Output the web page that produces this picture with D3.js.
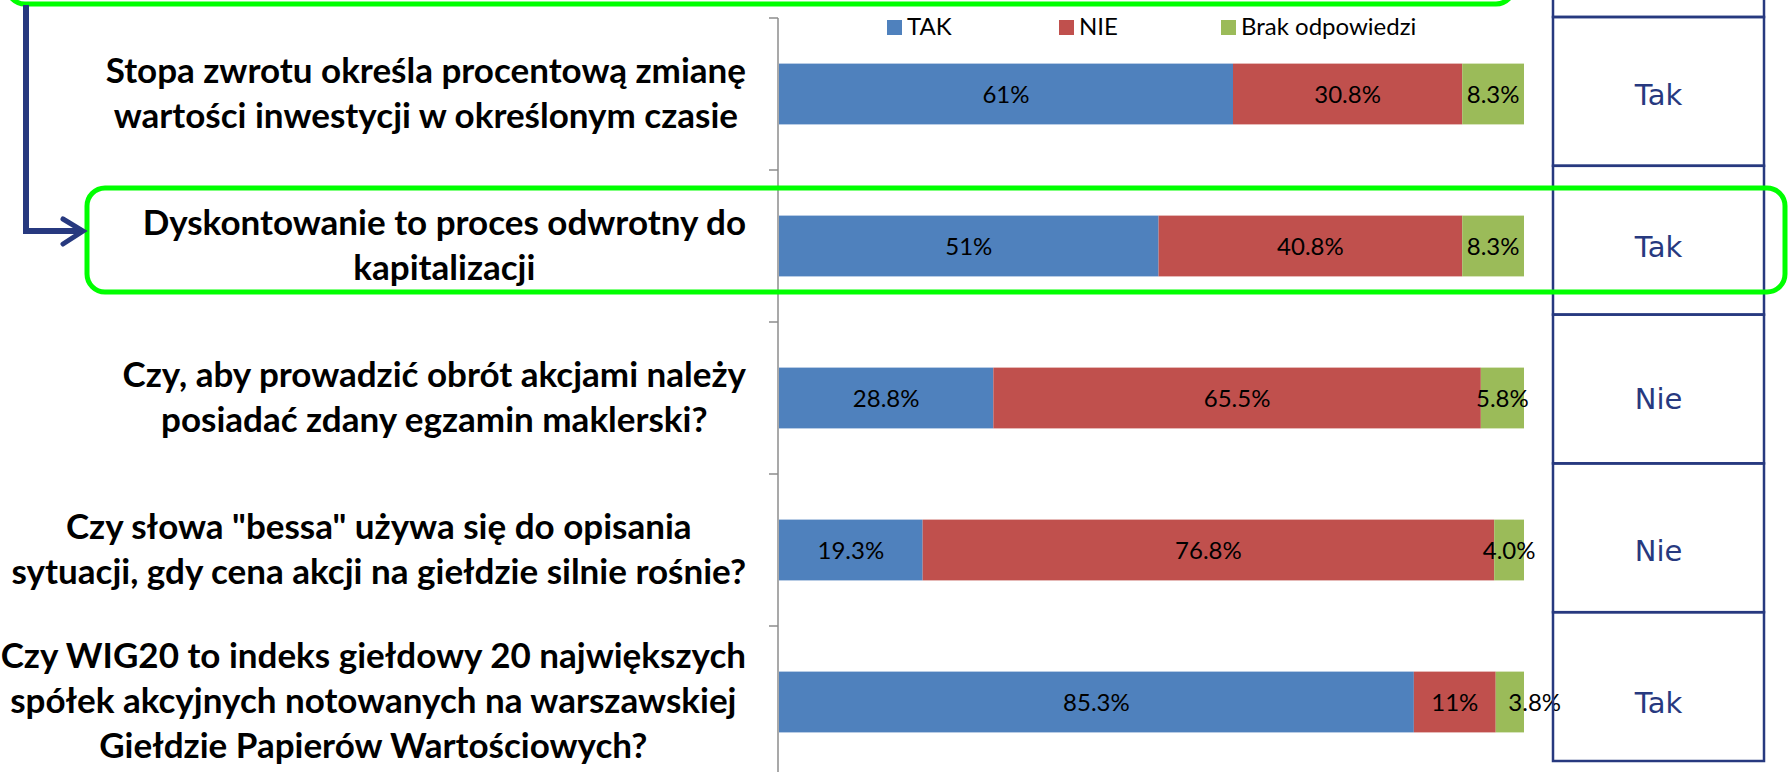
<!DOCTYPE html>
<html>
<head>
<meta charset="utf-8">
<script src="https://cdn.jsdelivr.net/npm/d3@7"></script>
<style>
  body { margin: 0; background: #fff; }
  svg { display: block; }
</style>
</head>
<body>
<svg id="chart"></svg>
<script>
// pytania (kategorie) i ich podział na linie
const categories = [
  "Stopa zwrotu określa procentową zmianę wartości inwestycji w określonym czasie",
  "Dyskontowanie to proces odwrotny do kapitalizacji",
  "Czy, aby prowadzić obrót akcjami należy posiadać zdany egzamin maklerski?",
  "Czy słowa \"bessa\" używa się do opisania sytuacji, gdy cena akcji na giełdzie silnie rośnie?",
  "Czy WIG20 to indeks giełdowy 20 największych spółek akcyjnych notowanych na warszawskiej Giełdzie Papierów Wartościowych?"
];
const categoryLines = [
  ["Stopa zwrotu określa procentową zmianę", "wartości inwestycji w określonym czasie"],
  ["Dyskontowanie to proces odwrotny do", "kapitalizacji"],
  ["Czy, aby prowadzić obrót akcjami należy", "posiadać zdany egzamin maklerski?"],
  ["Czy słowa \"bessa\" używa się do opisania", "sytuacji, gdy cena akcji na giełdzie silnie rośnie?"],
  ["Czy WIG20 to indeks giełdowy 20 największych", "spółek akcyjnych notowanych na warszawskiej", "Giełdzie Papierów Wartościowych?"]
];

const seriesNames = ["TAK", "NIE", "Brak odpowiedzi"];
const takValues = [61, 51, 28.8, 19.3, 85.3];
const nieValues = [30.8, 40.8, 65.5, 76.8, 11];
const brakValues = [8.3, 8.3, 5.8, 4.0, 3.8];
const takLabels = ["61%", "51%", "28.8%", "19.3%", "85.3%"];
const nieLabels = ["30.8%", "40.8%", "65.5%", "76.8%", "11%"];
const brakLabels = ["8.3%", "8.3%", "5.8%", "4.0%", "3.8%"];
const answers = ["Tak", "Tak", "Nie", "Nie", "Tak"];

const colors = ["#4f81bd", "#c0504d", "#9bbb59"];
const navy = "#27397f";
const green = "#00ff00";
const font = "Lato, 'Open Sans', sans-serif";

const width = 1789, height = 772;
const svg = d3.select("#chart").attr("width", width).attr("height", height);

const rows = categories.map((c, i) => ({
  cat: c,
  TAK: takValues[i],
  NIE: nieValues[i],
  "Brak odpowiedzi": brakValues[i]
}));
const seriesLabels = [takLabels, nieLabels, brakLabels];

const stacked = d3.stack().keys(seriesNames)(rows);
const total = d3.max(rows, d => d.TAK + d.NIE + d["Brak odpowiedzi"]);

const x = d3.scaleLinear().domain([0, total]).range([779, 1524]);
const y = d3.scaleBand().domain(categories).range([18, 778]).paddingInner(0.6).paddingOuter(0.3);

// oś pionowa z podziałkami na granicach kategorii
const axisX = 778;
const boundaries = categories.map(c => y(c) - y.step() * y.paddingInner() / 2);
boundaries.push(boundaries[boundaries.length - 1] + y.step());
svg.append("line")
  .attr("x1", axisX).attr("x2", axisX)
  .attr("y1", boundaries[0]).attr("y2", boundaries[boundaries.length - 1])
  .attr("stroke", "#8c8c8c").attr("stroke-width", 1.5);
svg.selectAll(".tick").data(boundaries).join("line")
  .attr("x1", axisX - 9).attr("x2", axisX)
  .attr("y1", d => d).attr("y2", d => d)
  .attr("stroke", "#8c8c8c").attr("stroke-width", 1.5);

// słupki
const layers = svg.selectAll(".layer").data(stacked).join("g")
  .attr("fill", (d, i) => colors[i]);
layers.selectAll("rect").data(d => d).join("rect")
  .attr("x", d => x(d[0]))
  .attr("y", d => y(d.data.cat))
  .attr("width", d => x(d[1]) - x(d[0]))
  .attr("height", y.bandwidth());

// etykiety wartości
const labelNodes = [];
stacked.forEach((s, si) => {
  const t = svg.append("g").selectAll("text").data(s).join("text")
    .attr("x", d => (x(d[0]) + x(d[1])) / 2)
    .attr("y", d => y(d.data.cat) + y.bandwidth() / 2 + 9)
    .attr("text-anchor", "middle")
    .attr("font-family", font)
    .attr("font-size", 24)
    .attr("fill", "#000")
    .text((d, i) => seriesLabels[si][i]);
  labelNodes.push(t.nodes());
});
// jeśli etykiety w jednym wierszu są za blisko, przesuń kolejną w prawo
categories.forEach((c, i) => {
  let prevRight = -Infinity;
  labelNodes.forEach(nodes => {
    const n = nodes[i];
    const w = n.getComputedTextLength();
    let cx = +n.getAttribute("x");
    if (cx - w / 2 < prevRight + 30) {
      cx = prevRight + 30 + w / 2;
      n.setAttribute("x", cx);
    }
    prevRight = cx + w / 2;
  });
});

// etykiety kategorii, blok wyrównany do prawej, linie wyśrodkowane
const labelRight = 746, lineH = 45;
categories.forEach((c, i) => {
  const lines = categoryLines[i];
  const cy = y(c) + y.bandwidth() / 2;
  const g = svg.append("g")
    .attr("font-family", font)
    .attr("font-weight", "bold")
    .attr("font-size", 35)
    .attr("fill", "#000");
  const texts = g.selectAll("text").data(lines).join("text")
    .attr("text-anchor", "middle")
    .attr("y", (d, j) => cy + (j - (lines.length - 1) / 2) * lineH + 11)
    .text(d => d);
  const maxW = d3.max(texts.nodes(), n => n.getComputedTextLength());
  texts.attr("x", labelRight - maxW / 2);
});

// legenda
const legendX = [887, 1059, 1221];
const legend = svg.append("g");
seriesNames.forEach((name, i) => {
  legend.append("rect")
    .attr("x", legendX[i]).attr("y", 20)
    .attr("width", 15).attr("height", 15)
    .attr("fill", colors[i]);
  legend.append("text")
    .attr("x", legendX[i] + 20).attr("y", 35)
    .attr("font-family", font)
    .attr("font-size", 24)
    .attr("fill", "#000")
    .text(name);
});

// tabela z odpowiedziami
const tableX = 1553, tableW = 211, tableTop = 17, rowH = 148.8;
const table = svg.append("g");
table.append("rect")
  .attr("x", tableX).attr("y", -20)
  .attr("width", tableW).attr("height", tableTop + 20)
  .attr("fill", "none").attr("stroke", navy).attr("stroke-width", 2.5);
answers.forEach((a, i) => {
  table.append("rect")
    .attr("x", tableX).attr("y", tableTop + i * rowH)
    .attr("width", tableW).attr("height", rowH)
    .attr("fill", "none").attr("stroke", navy).attr("stroke-width", 2.5);
});
table.selectAll("text").data(answers).join("text")
  .attr("x", tableX + tableW / 2)
  .attr("y", (d, i) => y(categories[i]) + y.bandwidth() / 2 + 11)
  .attr("text-anchor", "middle")
  .attr("font-family", "'DejaVu Sans', Verdana, sans-serif")
  .attr("font-size", 29)
  .attr("fill", navy)
  .text(d => d);

// zielone ramki wyróżnienia
svg.append("rect")
  .attr("x", 7).attr("y", -130).attr("width", 1507).attr("height", 134)
  .attr("rx", 18).attr("ry", 18)
  .attr("fill", "none").attr("stroke", green).attr("stroke-width", 5);
svg.append("rect")
  .attr("x", 87).attr("y", 188).attr("width", 1698).attr("height", 104)
  .attr("rx", 18).attr("ry", 18)
  .attr("fill", "none").attr("stroke", green).attr("stroke-width", 5);

// strzałka
svg.append("path")
  .attr("d", "M26,5 V231 H82")
  .attr("fill", "none").attr("stroke", navy).attr("stroke-width", 6);
svg.append("path")
  .attr("d", "M63,219 L83,231 L63,244")
  .attr("fill", "none").attr("stroke", navy).attr("stroke-width", 5)
  .attr("stroke-linecap", "round").attr("stroke-linejoin", "miter");
</script>
</body>
</html>
